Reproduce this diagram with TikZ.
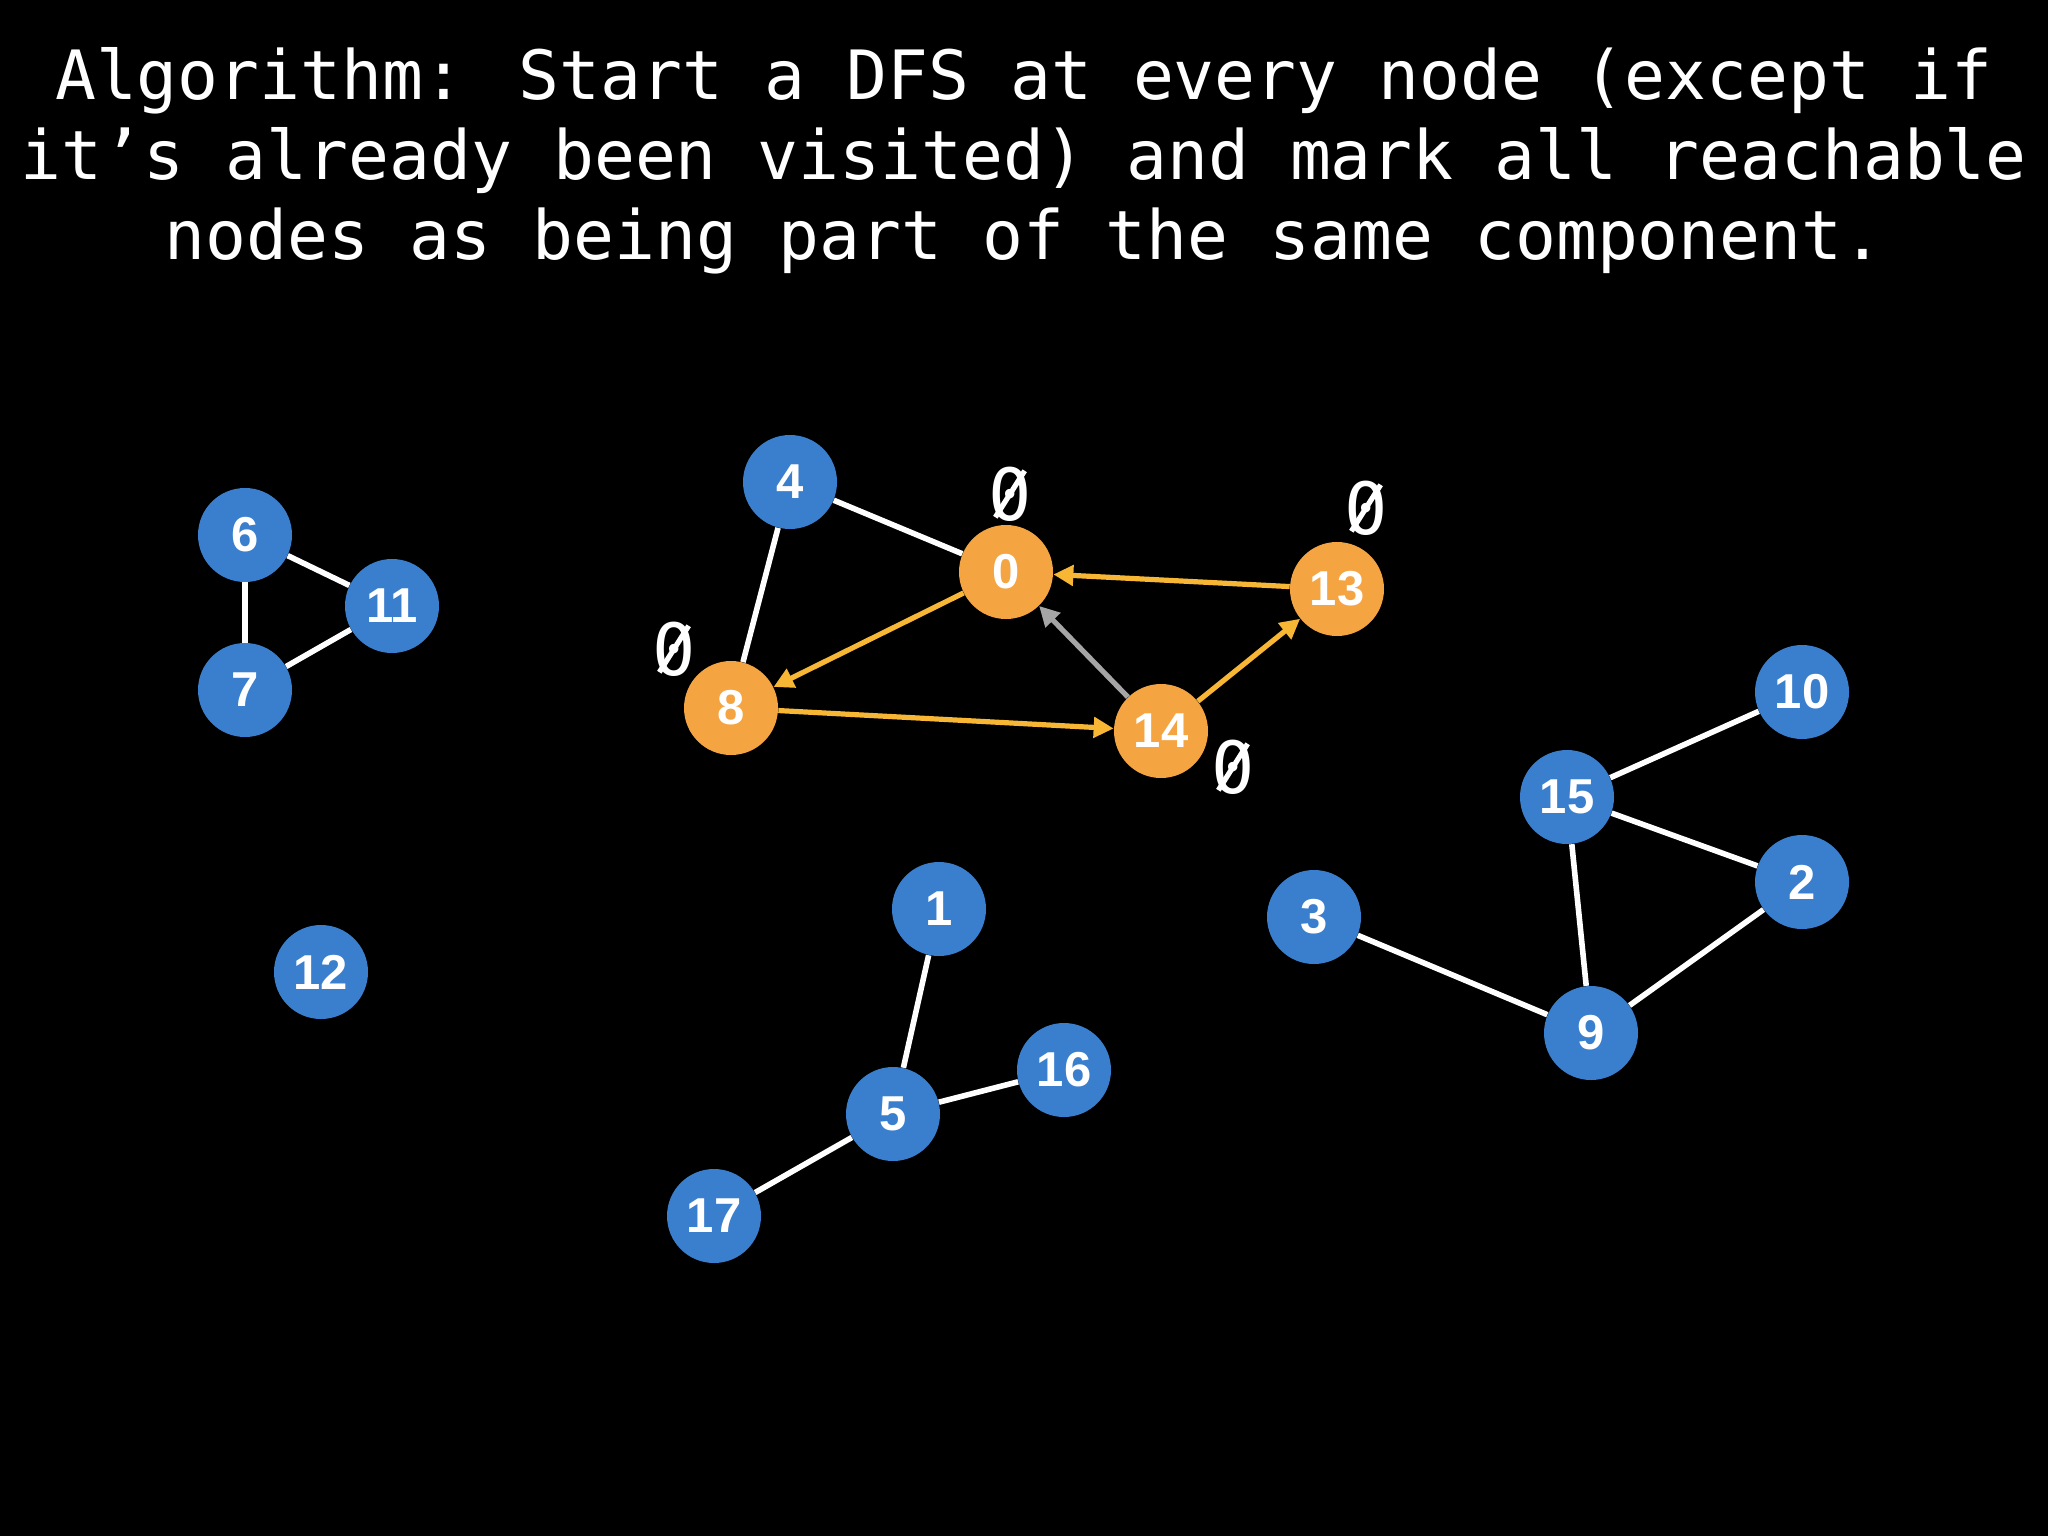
\documentclass[tikz,border=0pt]{standalone}
\usepackage{fontspec}
\setmainfont{Liberation Sans}
\newfontfamily\monofont{DejaVu Sans Mono}
\usetikzlibrary{arrows.meta}
\definecolor{nblue}{RGB}{58,126,206}
\definecolor{norange}{RGB}{245,164,66}
\definecolor{aorange}{RGB}{247,182,52}
\definecolor{agray}{RGB}{165,165,165}
\tikzset{
  gnode/.style={circle,inner sep=0pt,minimum size=47pt,text=white,
    font=\fontsize{24.5}{28}\selectfont\bfseries},
  bluenode/.style={gnode,fill=nblue},
  orangenode/.style={gnode,fill=norange},
  edge/.style={draw=white,line width=2.8pt},
  tarrow/.style={draw=aorange,line width=2.6pt,-{Triangle[length=10pt,width=10pt]}},
  garrow/.style={draw=agray,line width=2.6pt,-{Triangle[length=10pt,width=10pt]}},
  ttext/.style={text=white,inner sep=0pt,font=\monofont\fontsize{34}{40}\selectfont},
  zlabel/.style={ttext,font=\monofont\fontsize{36}{40}\selectfont,
    path picture={\draw[white,line width=2.6pt]
      ([shift={(3.5pt,2pt)}]path picture bounding box.south west) --
      ([shift={(-3.5pt,-2pt)}]path picture bounding box.north east);}},
}
\begin{document}
\begin{tikzpicture}[x=0.5pt,y=-0.5pt]
\fill[black] (0,0) rectangle (2048,1536);
\useasboundingbox (0,0) rectangle (2048,1536);
% title
\node[ttext,anchor=base] (t1) at (1024,99) {Algorithm: Start a DFS at every node (except if};
\node[ttext,anchor=base] (t2) at (1024,179) {it’s already been visited) and mark all reachable};
\node[ttext,anchor=base] (t3) at (1024,259) {nodes as being part of the same component.};
% nodes
\node[bluenode] (n6) at (245,535) {6};
\node[bluenode] (n11) at (392,606) {11};
\node[bluenode] (n7) at (245,690) {7};
\node[bluenode] (n12) at (321,972) {12};
\node[bluenode] (n4) at (790,482) {4};
\node[orangenode] (n0) at (1006,572) {0};
\node[orangenode] (n13) at (1337,589) {13};
\node[orangenode] (n8) at (731,708) {8};
\node[orangenode] (n14) at (1161,731) {14};
\node[bluenode] (n10) at (1802,692) {10};
\node[bluenode] (n15) at (1567,797) {15};
\node[bluenode] (n2) at (1802,882) {2};
\node[bluenode] (n3) at (1314,917) {3};
\node[bluenode] (n9) at (1591,1033) {9};
\node[bluenode] (n1) at (939,909) {1};
\node[bluenode] (n16) at (1064,1070) {16};
\node[bluenode] (n5) at (893,1114) {5};
\node[bluenode] (n17) at (714,1216) {17};
% component labels
\node[zlabel] (z0) at (1010,494) {0};
\node[zlabel] (z13) at (1366,508) {0};
\node[zlabel] (z8) at (674,649) {0};
\node[zlabel] (z14) at (1233,767) {0};
% edges
\draw[edge] (n6) -- (n11);
\draw[edge] (n6) -- (n7);
\draw[edge] (n7) -- (n11);
\draw[edge] (n4) -- (n0);
\draw[edge] (n4) -- (n8);
\draw[edge] (n1) -- (n5);
\draw[edge] (n5) -- (n16);
\draw[edge] (n5) -- (n17);
\draw[edge] (n3) -- (n9);
\draw[edge] (n15) -- (n10);
\draw[edge] (n15) -- (n2);
\draw[edge] (n15) -- (n9);
\draw[edge] (n9) -- (n2);
% DFS arrows
\draw[tarrow] (n13) -- (n0);
\draw[tarrow] (n0) -- (n8);
\draw[tarrow] (n8) -- (n14);
\draw[tarrow] (n14) -- (n13);
\draw[garrow] (n14) -- (n0);
\end{tikzpicture}
\end{document}
